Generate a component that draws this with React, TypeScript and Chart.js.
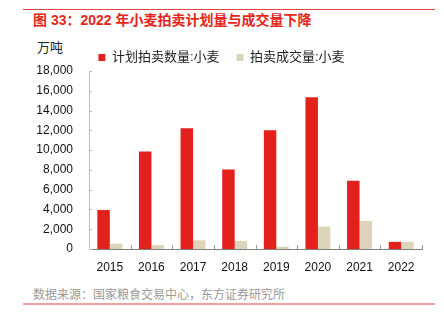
import React, { useEffect, useRef } from 'react';
import { Chart, registerables } from 'chart.js';

Chart.register(...registerables);

const years: string[] = ['2015', '2016', '2017', '2018', '2019', '2020', '2021', '2022'];
const plannedWheat: number[] = [3950, 9850, 12200, 8050, 12000, 15350, 6900, 720];
const dealtWheat: number[] = [540, 400, 880, 810, 230, 2260, 2830, 720];
const seriesNames: string[] = ['计划拍卖数量:小麦', '拍卖成交量:小麦'];
const yMax = 18000;
const yStep = 2000;

const FONT = "'Liberation Sans', 'Noto Sans CJK SC', sans-serif";
Chart.defaults.font.family = FONT;

const innerTicks = {
  id: 'innerTicks',
  afterDraw(chart: any) {
    const ctx = chart.ctx;
    const x = chart.scales.x;
    const y = chart.scales.y;
    ctx.save();
    ctx.lineWidth = 1;
    ctx.strokeStyle = '#999999';
    const n = x.ticks.length;
    for (let i = 1; i <= n; i++) {
      const px = i < n ? (x.getPixelForTick(i - 1) + x.getPixelForTick(i)) / 2 : x.right;
      const xx = Math.round(px) + 0.5;
      ctx.beginPath();
      ctx.moveTo(xx, x.top);
      ctx.lineTo(xx, x.top - 4);
      ctx.stroke();
    }
    ctx.strokeStyle = '#bbbbbb';
    y.ticks.forEach((t: any) => {
      const py = Math.round(y.getPixelForValue(t.value)) + 0.5;
      ctx.beginPath();
      ctx.moveTo(y.right, py);
      ctx.lineTo(y.right + 3, py);
      ctx.stroke();
    });
    ctx.restore();
  },
};

function BarChart() {
  const ref = useRef<HTMLCanvasElement | null>(null);
  useEffect(() => {
    if (!ref.current) return;
    const chart = new Chart(ref.current, {
      type: 'bar',
      data: {
        labels: years,
        datasets: [
          { label: seriesNames[0], data: plannedWheat, backgroundColor: '#E3201B', categoryPercentage: 0.6, barPercentage: 1 },
          { label: seriesNames[1], data: dealtWheat, backgroundColor: '#DDD4BC', categoryPercentage: 0.6, barPercentage: 1 },
        ],
      },
      options: {
        animation: false,
        responsive: true,
        maintainAspectRatio: false,
        layout: { padding: { left: 0, right: 22, top: 0, bottom: 0 } },
        plugins: {
          tooltip: { enabled: false },
          legend: {
            position: 'top',
            maxHeight: 37,
            labels: {
              boxWidth: 7,
              boxHeight: 7,
              padding: 17,
              color: '#222222',
              font: { size: 13, family: FONT },
            },
          },
        },
        scales: {
          x: {
            grid: { display: false },
            border: { display: true, color: '#808080', width: 1 },
            ticks: { color: '#111111', font: { size: 12, family: FONT }, padding: 3, maxRotation: 0, autoSkip: false },
            afterFit: (s: any) => { s.height = 26; },
          },
          y: {
            min: 0,
            max: yMax,
            grid: { display: false, drawTicks: false },
            border: { display: true, color: '#c0c0c0', width: 1 },
            ticks: {
              stepSize: yStep,
              color: '#111111',
              font: { size: 12, family: FONT },
              padding: 16,
              callback: (v: any) => Number(v).toLocaleString('en-US'),
            },
            afterFit: (s: any) => { s.width = 68; },
          },
        },
      },
      plugins: [innerTicks],
    });
    return () => chart.destroy();
  }, []);
  return (
    <div style={{ position: 'absolute', left: 21, top: 34, width: 423, height: 241 }}>
      <canvas ref={ref} />
    </div>
  );
}

export default function App() {
  return (
    <div style={{ position: 'absolute', left: 0, top: 0, width: 444, height: 322, background: '#fff', overflow: 'hidden', fontFamily: FONT }}>
      <div style={{ position: 'absolute', left: 23, top: 9, width: 412, height: 1, background: '#E5443C' }} />
      <div style={{ position: 'absolute', left: 33, top: 11, height: 18, lineHeight: '18px', fontSize: 14, fontWeight: 'bold', color: '#E4261C', whiteSpace: 'nowrap' }}>
        图 33：2022 年小麦拍卖计划量与成交量下降
      </div>
      <div style={{ position: 'absolute', left: 37, top: 40, height: 16, lineHeight: '16px', fontSize: 13, color: '#222' }}>万吨</div>
      <BarChart />
      <div style={{ position: 'absolute', left: 33, top: 287, height: 16, lineHeight: '16px', fontSize: 12, color: '#999999', whiteSpace: 'nowrap' }}>
        数据来源：国家粮食交易中心，东方证券研究所
      </div>
      <div style={{ position: 'absolute', left: 23, top: 303, width: 412, height: 2, background: '#F2A09A' }} />
    </div>
  );
}
